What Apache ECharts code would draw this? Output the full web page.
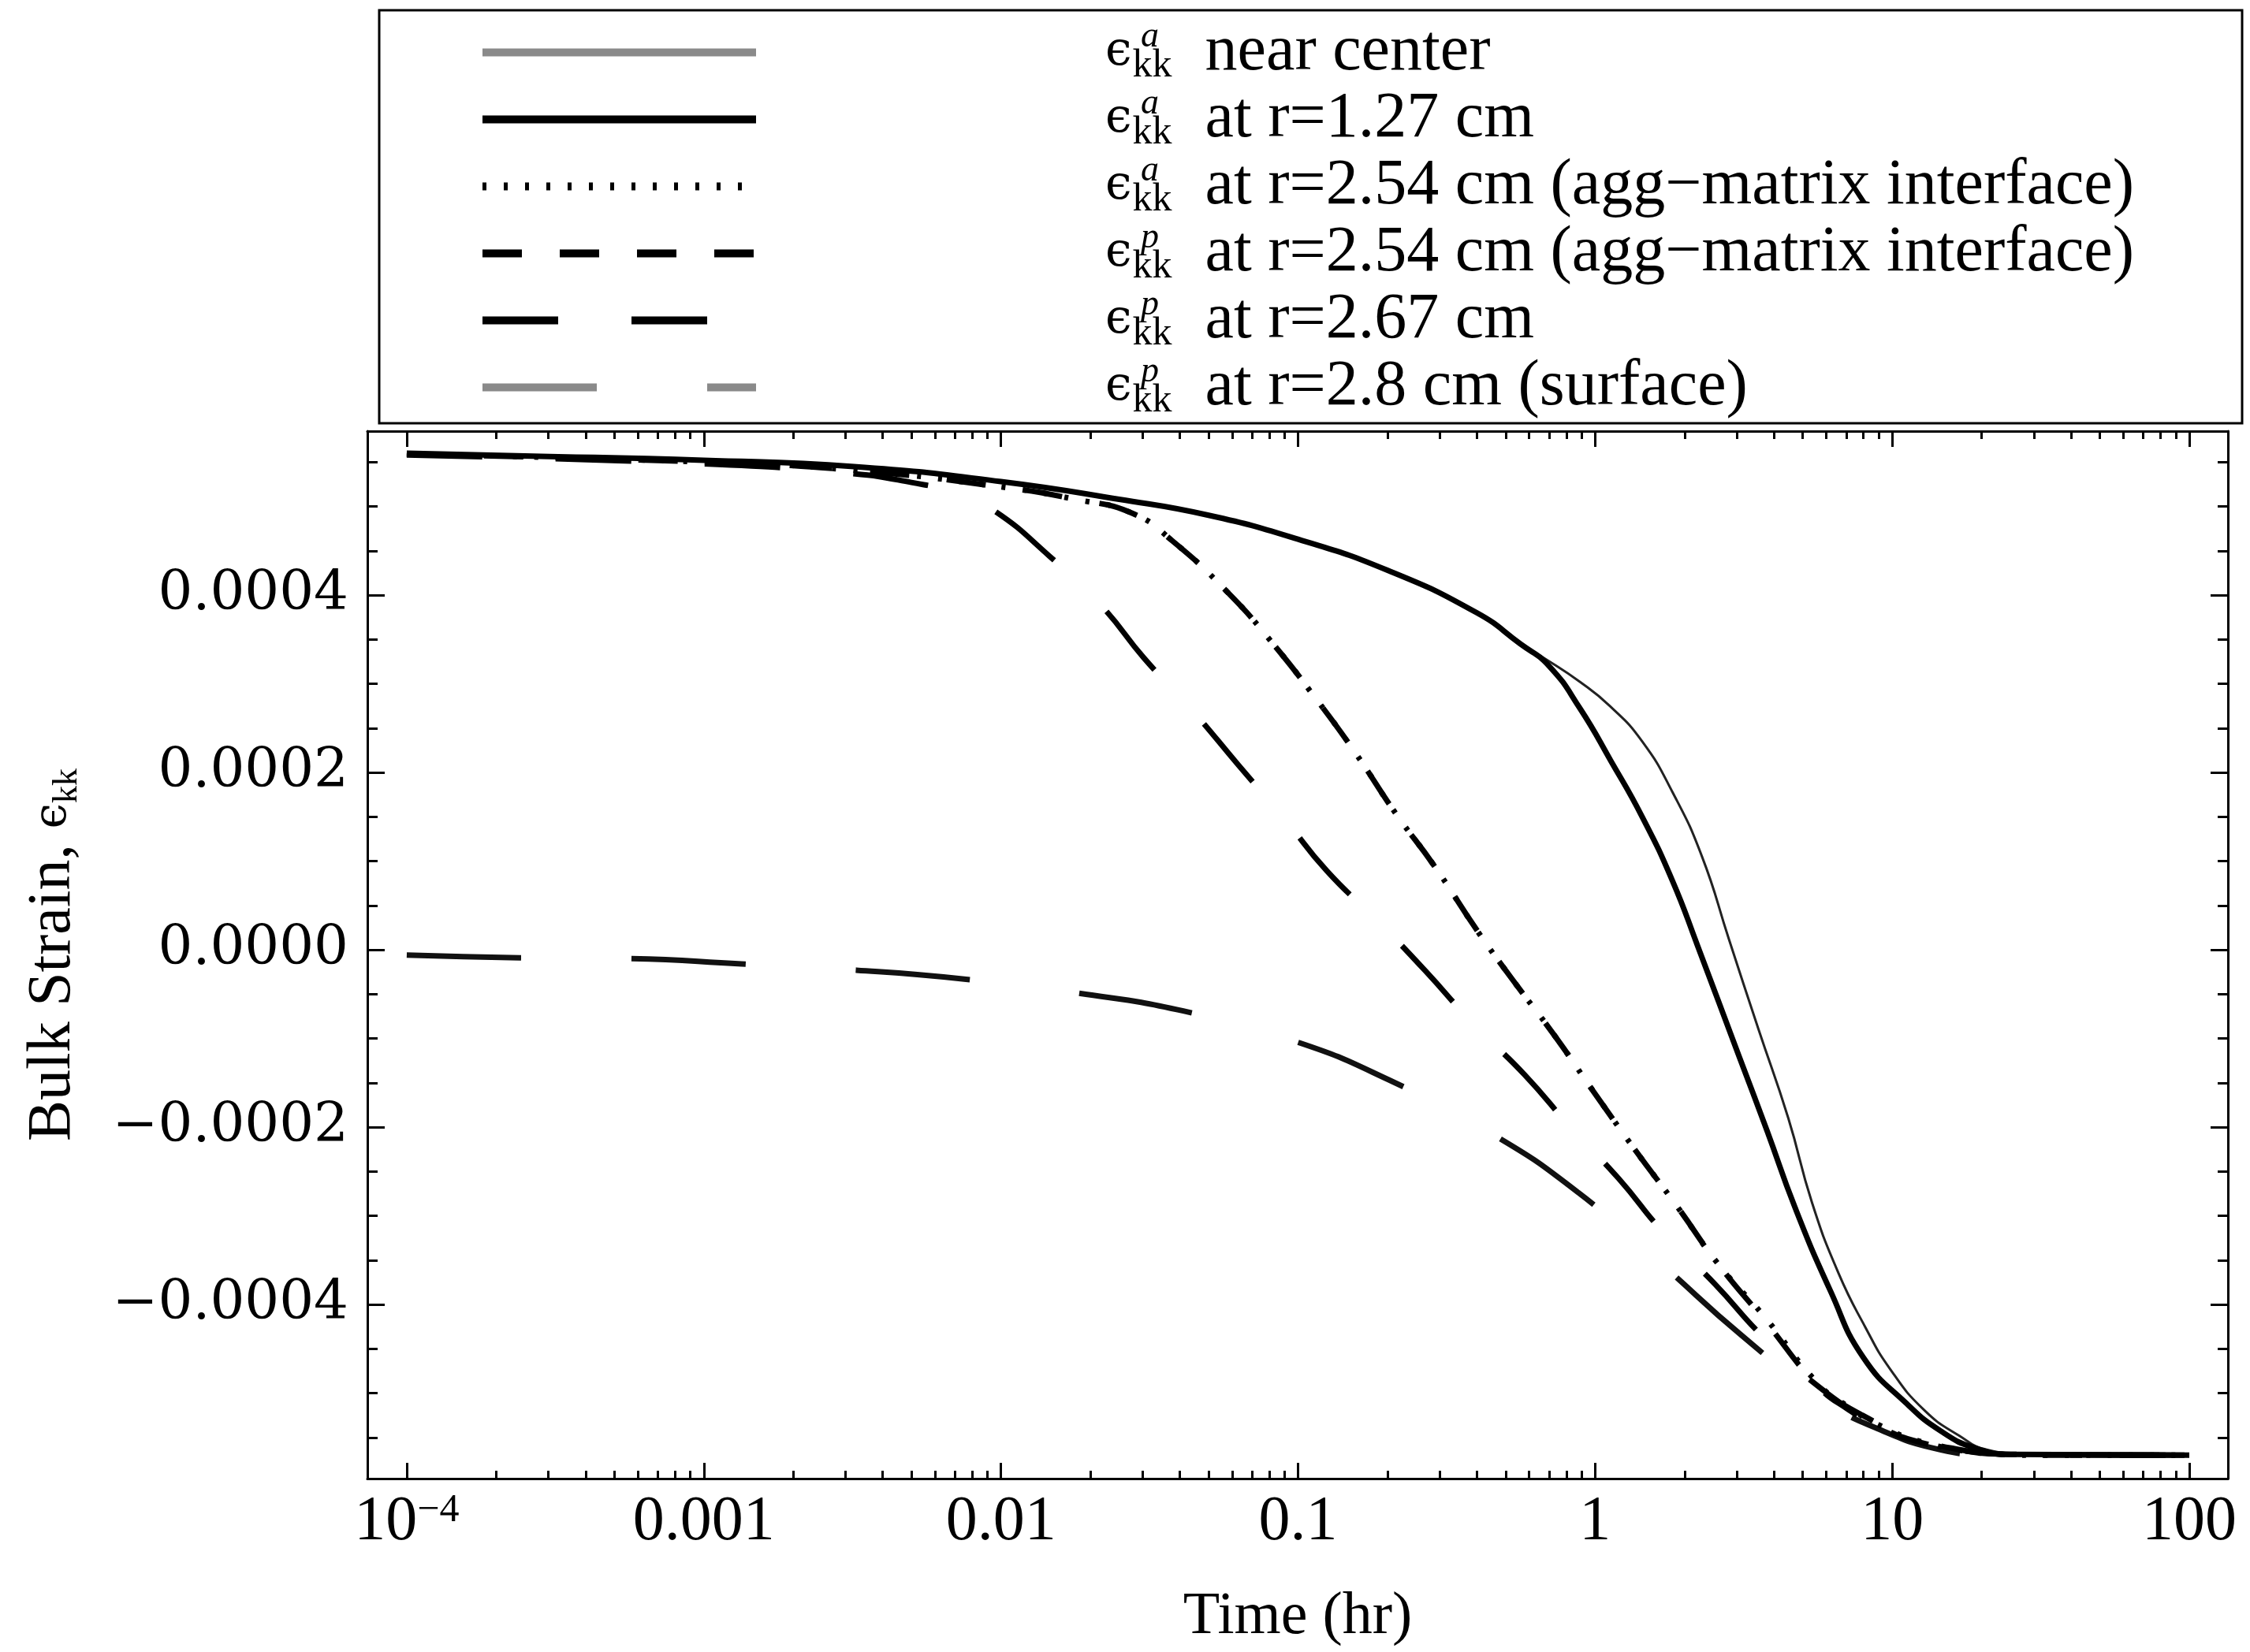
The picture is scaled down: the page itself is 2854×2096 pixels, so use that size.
<!DOCTYPE html>
<html><head><meta charset="utf-8">
<script src="https://cdn.jsdelivr.net/npm/echarts@6/dist/echarts.min.js"></script>
<style>html,body{margin:0;padding:0;background:#fff}#c{width:2854px;height:2096px}</style>
</head><body><div id="c"></div>
<script>
// ---------------- data (time in hr, bulk strain) ----------------
const seriesNames = [
  'ϵ^a_kk near center',
  'ϵ^a_kk at r=1.27 cm',
  'ϵ^a_kk at r=2.54 cm (agg−matrix interface)',
  'ϵ^p_kk at r=2.54 cm (agg−matrix interface)',
  'ϵ^p_kk at r=2.67 cm',
  'ϵ^p_kk at r=2.8 cm (surface)'
];
const legendSup = ['a', 'a', 'a', 'p', 'p', 'p'];
const legendDesc = [
  'near center',
  'at r=1.27 cm',
  'at r=2.54 cm (agg−matrix interface)',
  'at r=2.54 cm (agg−matrix interface)',
  'at r=2.67 cm',
  'at r=2.8 cm (surface)'
];

// near center (thin)
const tCenter = [1e-4, 2.5e-4, 1e-3, 3.2e-3, 0.01, 0.025, 0.05, 0.1, 0.2, 0.4, 0.56, 0.68, 0.89, 1.12, 1.44, 1.82, 2.29, 2.82, 3.55, 4.47, 5.37, 6.6, 8.1, 9.8, 12.8, 16.8, 20.9, 28.2, 100];
const vCenter = [5.60e-4, 5.57e-4, 5.52e-4, 5.45e-4, 5.28e-4, 5.08e-4, 4.90e-4, 4.63e-4, 4.28e-4, 3.80e-4, 3.45e-4, 3.28e-4, 3.02e-4, 2.75e-4, 2.35e-4, 1.78e-4, 1.05e-4, 0.12e-4, -0.90e-4, -1.90e-4, -2.85e-4, -3.65e-4, -4.25e-4, -4.72e-4, -5.19e-4, -5.48e-4, -5.64e-4, -5.69e-4, -5.70e-4];

// r = 1.27 cm (thick)
const t127 = [1e-4, 2.5e-4, 1e-3, 3.2e-3, 0.01, 0.025, 0.05, 0.1, 0.2, 0.4, 0.56, 0.7, 0.89, 1.13, 1.44, 1.82, 2.21, 3.05, 3.8, 4.7, 6.2, 8.0, 11.2, 14.6, 19, 25, 100];
const v127 = [5.60e-4, 5.57e-4, 5.52e-4, 5.45e-4, 5.28e-4, 5.08e-4, 4.90e-4, 4.63e-4, 4.28e-4, 3.80e-4, 3.45e-4, 3.20e-4, 2.72e-4, 2.13e-4, 1.50e-4, 0.78e-4, 0.05e-4, -1.20e-4, -2.05e-4, -2.90e-4, -3.85e-4, -4.60e-4, -5.12e-4, -5.43e-4, -5.62e-4, -5.69e-4, -5.70e-4];

// r = 2.54 cm, aggregate side (dotted)
const t254a = [1e-4, 1e-3, 3.16e-3, 0.01, 0.0178, 0.0278, 0.0378, 0.058, 0.0815, 0.1156, 0.156, 0.214, 0.287, 0.402, 0.528, 0.731, 0.993, 1.365, 1.884, 2.59, 3.72, 5.62, 7.08, 8.91, 12.6, 20, 31.6, 100];
const v254a = [5.59e-4, 5.50e-4, 5.41e-4, 5.22e-4, 5.08e-4, 4.92e-4, 4.61e-4, 4.03e-4, 3.47e-4, 2.82e-4, 2.22e-4, 1.53e-4, 0.95e-4, 0.21e-4, -0.34e-4, -0.97e-4, -1.61e-4, -2.26e-4, -2.89e-4, -3.54e-4, -4.14e-4, -4.89e-4, -5.15e-4, -5.35e-4, -5.55e-4, -5.67e-4, -5.70e-4, -5.70e-4];

// r = 2.54 cm, paste side (short dashes)
const t254p = [1e-4, 1e-3, 3.16e-3, 0.01, 0.0178, 0.0278, 0.0378, 0.058, 0.0815, 0.1156, 0.156, 0.214, 0.287, 0.402, 0.528, 0.731, 0.993, 1.365, 1.884, 2.59, 3.72, 5.62, 7.08, 8.91, 12.6, 20, 31.6, 100];
const v254p = [5.59e-4, 5.50e-4, 5.41e-4, 5.22e-4, 5.08e-4, 4.92e-4, 4.61e-4, 4.03e-4, 3.47e-4, 2.82e-4, 2.22e-4, 1.53e-4, 0.95e-4, 0.21e-4, -0.34e-4, -0.97e-4, -1.61e-4, -2.26e-4, -2.89e-4, -3.54e-4, -4.18e-4, -4.92e-4, -5.18e-4, -5.37e-4, -5.56e-4, -5.67e-4, -5.70e-4, -5.70e-4];

// r = 2.67 cm (long dashes)
const t267 = [1e-4, 1e-3, 3.16e-3, 0.005, 0.00708, 0.00942, 0.01456, 0.02178, 0.0303, 0.0443, 0.0631, 0.0899, 0.125, 0.186, 0.267, 0.39, 0.579, 0.836, 1.2, 1.7, 2.53, 3.69, 5.62, 7.94, 11.2, 15.8, 25.1, 100];
const v267 = [5.58e-4, 5.48e-4, 5.37e-4, 5.27e-4, 5.15e-4, 4.96e-4, 4.44e-4, 3.88e-4, 3.29e-4, 2.69e-4, 2.08e-4, 1.48e-4, 0.89e-4, 0.32e-4, -0.23e-4, -0.84e-4, -1.41e-4, -2.02e-4, -2.58e-4, -3.19e-4, -3.77e-4, -4.37e-4, -4.92e-4, -5.25e-4, -5.47e-4, -5.62e-4, -5.69e-4, -5.70e-4];

// r = 2.8 cm, surface (very long dashes)
const t280 = [1e-4, 2.4e-4, 5.68e-4, 1.34e-3, 3.26e-3, 7.52e-3, 0.01824, 0.0411, 0.0973, 0.2, 0.446, 0.879, 1.679, 3.09, 6.03, 8.91, 14.6, 20, 100];
const v280 = [-0.06e-4, -0.09e-4, -0.10e-4, -0.16e-4, -0.23e-4, -0.33e-4, -0.49e-4, -0.69e-4, -1.03e-4, -1.46e-4, -2.07e-4, -2.74e-4, -3.55e-4, -4.34e-4, -5.10e-4, -5.40e-4, -5.64e-4, -5.69e-4, -5.70e-4];

// axis ticks and labels
const xMajorTicks = [1e-4, 1e-3, 1e-2, 1e-1, 1, 10, 100];
const xTickBase = ['10', '0.001', '0.01', '0.1', '1', '10', '100'];
const xTickExp = ['−4', '', '', '', '', '', ''];
const xMinorTicks = [2e-4, 3e-4, 4e-4, 5e-4, 6e-4, 7e-4, 8e-4, 9e-4,
  2e-3, 3e-3, 4e-3, 5e-3, 6e-3, 7e-3, 8e-3, 9e-3,
  0.02, 0.03, 0.04, 0.05, 0.06, 0.07, 0.08, 0.09,
  0.2, 0.3, 0.4, 0.5, 0.6, 0.7, 0.8, 0.9,
  2, 3, 4, 5, 6, 7, 8, 9,
  20, 30, 40, 50, 60, 70, 80, 90];
const yMajorTicks = [-4e-4, -2e-4, 0, 2e-4, 4e-4];
const yTickLabels = ['−0.0004', '−0.0002', '0.0000', '0.0002', '0.0004'];
const yMinorTicks = [-5.5e-4, -5e-4, -4.5e-4, -3.5e-4, -3e-4, -2.5e-4, -1.5e-4, -1e-4, -0.5e-4,
  0.5e-4, 1e-4, 1.5e-4, 2.5e-4, 3e-4, 3.5e-4, 4.5e-4, 5e-4, 5.5e-4];

const xMin = 7.37e-5, xMax = 134.9;
const yMin = -5.964e-4, yMax = 5.849e-4;

// ---------------- chart ----------------
const zip = (t, v) => t.map((x, i) => [x, v[i]]);
const SERIF = 'Liberation Serif';
const black = '#000';

const xLabelFmt = (val) => {
  const i = xMajorTicks.findIndex(t => Math.abs(Math.log10(t) - Math.log10(val)) < 1e-6);
  if (i < 0) return '';
  return xTickExp[i] ? '{b|' + xTickBase[i] + '}{s|' + xTickExp[i] + '}' : '{b|' + xTickBase[i] + '}';
};
const yLabelFmt = (val) => {
  const i = yMajorTicks.findIndex(t => Math.abs(t - val) < 1e-9);
  return i < 0 ? '' : yTickLabels[i];
};

function xAx(pos, ticks, len, withLine, withLabel) {
  const a = {
    type: 'log', logBase: 10, position: pos, min: xMin, max: xMax,
    axisLine: { show: withLine, onZero: false, lineStyle: { color: black, width: 3 } },
    axisTick: { show: true, inside: true, length: len, customValues: ticks, lineStyle: { color: black, width: 3 } },
    axisLabel: { show: false },
    splitLine: { show: false }, minorTick: { show: false }, minorSplitLine: { show: false }
  };
  if (withLabel) {
    a.axisLabel = {
      show: true, customValues: xMajorTicks, formatter: xLabelFmt, margin: 16, color: black,
      hideOverlap: false,
      rich: {
        b: { fontFamily: SERIF, fontSize: 80, lineHeight: 80, color: black },
        s: { fontFamily: SERIF, fontSize: 50, lineHeight: 40, verticalAlign: 'top', color: black }
      }
    };
    a.name = 'Time (hr)';
    a.nameLocation = 'middle';
    a.nameGap = 138;
    a.nameMoveOverlap = false;
    a.nameTextStyle = { fontFamily: SERIF, fontSize: 76, color: black };
  }
  return a;
}
function yAx(pos, ticks, len, withLine, withLabel) {
  const a = {
    type: 'value', position: pos, min: yMin, max: yMax,
    axisLine: { show: withLine, onZero: false, lineStyle: { color: black, width: 3 } },
    axisTick: { show: true, inside: true, length: len, customValues: ticks, lineStyle: { color: black, width: 3 } },
    axisLabel: { show: false },
    splitLine: { show: false }
  };
  if (withLabel) {
    a.axisLabel = {
      show: true, customValues: yMajorTicks, formatter: yLabelFmt, margin: 24,
      fontFamily: 'DejaVu Serif', fontSize: 69, color: black, hideOverlap: false
    };
    a.name = 'Bulk Strain, {e|ϵ}{s|kk}';
    a.nameLocation = 'middle';
    a.nameGap = 359;
    a.nameMoveOverlap = false;
    a.nameTextStyle = {
      fontFamily: SERIF, fontSize: 78, color: black,
      rich: {
        e: { fontFamily: 'DejaVu Serif', fontSize: 58, color: black },
        s: { fontFamily: SERIF, fontSize: 44, lineHeight: 40, verticalAlign: 'bottom', color: black }
      }
    };
  }
  return a;
}

const styles = [
  { color: '#222', width: 3, type: 'solid', legendColor: '#8a8a8a' },
  { color: '#000', width: 7, type: 'solid', legendColor: '#000' },
  { color: '#000', width: 7, type: [5, 22], legendColor: '#000' },
  { color: '#000', width: 7, type: [50, 48], legendColor: '#000' },
  { color: '#000', width: 7, type: [96, 93], legendColor: '#000' },
  { color: '#111', width: 7, type: [145, 140], legendColor: '#8a8a8a' }
];
const dataSets = [zip(tCenter, vCenter), zip(t127, v127), zip(t254a, v254a), zip(t254p, v254p), zip(t267, v267), zip(t280, v280)];
const drawOrder = [5, 4, 3, 2, 0, 1];

const series = drawOrder.map((i, k) => ({
  name: seriesNames[i], type: 'line', data: dataSets[i],
  xAxisIndex: 0, yAxisIndex: 0,
  symbol: 'none', showSymbol: false, smooth: 0.5,
  clip: true, z: 2 + k,
  lineStyle: { color: styles[i].color, width: styles[i].width, type: styles[i].type, cap: 'butt', join: 'round' },
  itemStyle: { color: styles[i].color },
  emphasis: { disabled: true }
}));

const chart = echarts.init(document.getElementById('c'), null, { renderer: 'canvas' });
chart.setOption({
  animation: false,
  backgroundColor: '#fff',
  grid: { left: 466, right: 28, top: 547, bottom: 220, containLabel: false, outerBoundsMode: 'none' },
  xAxis: [
    xAx('bottom', xMajorTicks, 20, true, true),
    xAx('bottom', xMinorTicks, 10, false, false),
    xAx('top', xMajorTicks, 20, true, false),
    xAx('top', xMinorTicks, 10, false, false)
  ],
  yAxis: [
    yAx('left', yMajorTicks, 22, true, true),
    yAx('left', yMinorTicks, 13, false, false),
    yAx('right', yMajorTicks, 22, true, false),
    yAx('right', yMinorTicks, 13, false, false)
  ],
  legend: {
    show: true, orient: 'vertical', left: 607, top: 24, padding: 0,
    itemWidth: 347, itemHeight: 20, itemGap: 0, selectedMode: false,
    itemStyle: { opacity: 0 },
    data: seriesNames.map((n, i) => ({ name: n, lineStyle: { width: 10, color: styles[i].legendColor } })),
    formatter: (name) => {
      const i = seriesNames.indexOf(name);
      return '{e|ϵ}{u| ' + legendSup[i] + '}{d|kk}{t|' + legendDesc[i] + '}';
    },
    textStyle: {
      fontFamily: SERIF, fontSize: 82, lineHeight: 85, color: black,
      rich: {
        e: { fontFamily: 'DejaVu Serif', fontSize: 60, lineHeight: 85, padding: [0, 0, 0, 438], color: black },
        u: { fontFamily: SERIF, fontStyle: 'italic', fontSize: 46, lineHeight: 44, verticalAlign: 'top', width: 1, color: black },
        d: { fontFamily: SERIF, fontSize: 50, lineHeight: 40, verticalAlign: 'bottom', color: black },
        t: { fontFamily: SERIF, fontSize: 82, lineHeight: 85, padding: [0, 0, 0, 42], color: black }
      }
    }
  },
  graphic: [{
    type: 'rect', silent: true, z: 100,
    shape: { x: 481, y: 13, width: 2363, height: 524 },
    style: { fill: 'none', stroke: black, lineWidth: 3 }
  }],
  series: series
});
</script></body></html>
